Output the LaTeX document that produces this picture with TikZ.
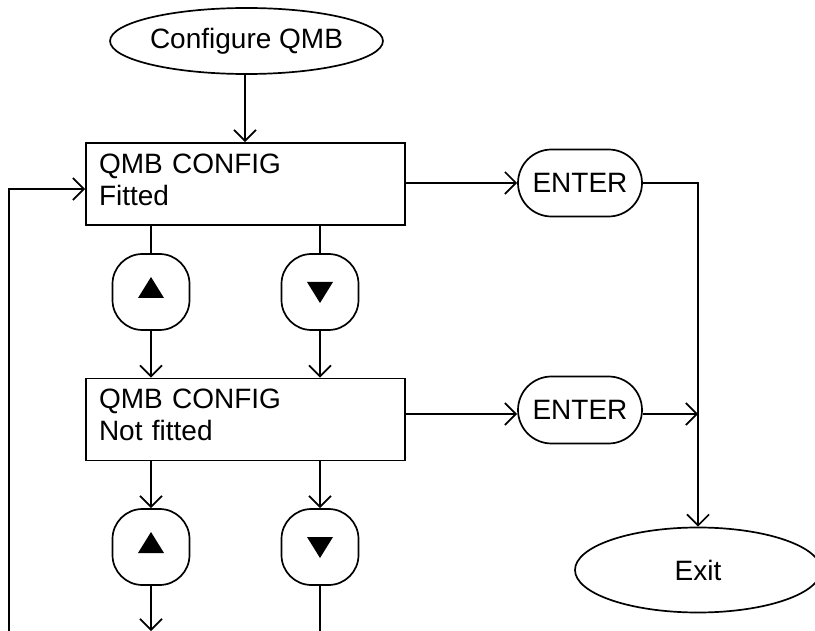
\documentclass[tikz,border=0pt]{standalone}
\usepackage{fontspec}
\setmainfont{Liberation Sans}
\usetikzlibrary{shapes.geometric,shapes.misc,arrows.meta}
\begin{document}
\begin{tikzpicture}[x=1pt,y=-1pt,
  line width=1.7pt,
  every node/.style={font=\fontsize{28}{32}\selectfont, line width=1.7pt, draw, inner sep=0pt},
  arr/.style={-{Straight Barb[length=11pt,width=22pt,line width=1.7pt]}},
  oval/.style={ellipse},
  cfgbox/.style={rectangle, minimum width=319pt, minimum height=82pt, text width=293pt, align=left},
  btn/.style={rectangle, rounded corners=30pt, minimum width=77pt, minimum height=76pt},
  tri/.style={fill=black, draw=none},
  enter/.style={rounded rectangle, minimum width=124pt, minimum height=67pt}
]
\useasboundingbox (0,0) rectangle (815,631);

\node[oval, minimum width=227pt, minimum height=66pt] (cfg) at (246.5,41) {Configure QMB};
\node[cfgbox] (b1) at (245.5,184) {QMB CONFIG\\Fitted\rule[-9pt]{0pt}{0pt}};
\node[cfgbox] (b2) at (245.5,419.5) {QMB CONFIG\\Not fitted\rule[-9pt]{0pt}{0pt}};
\node[btn] (u1) at (151,292) {};
\node[btn] (d1) at (320,292) {};
\node[btn] (u2) at (151,547) {};
\node[btn] (d2) at (320,547) {};
\node[enter] (e1) at (580,183) {ENTER};
\node[enter] (e2) at (580,410) {ENTER};
\node[oval, minimum width=246pt, minimum height=85pt] (ex) at (698,570) {Exit};

\foreach \n in {u1,u2}
  \fill[tri] ([shift={(-13,6)}]\n.center) -- ([shift={(13,6)}]\n.center) -- ([shift={(0,-15)}]\n.center) -- cycle;
\foreach \n in {d1,d2}
  \fill[tri] ([shift={(-13,-10)}]\n.center) -- ([shift={(13,-10)}]\n.center) -- ([shift={(0,11)}]\n.center) -- cycle;

\coordinate (loop) at (9,631);
\coordinate (u2end) at (151,631);
\coordinate (d2end) at (320,631);

\draw[arr] (cfg.south -| 245,0) -- (245,0 |- b1.north);
\draw[arr] (loop) |- ([yshift=-5pt]b1.west);
\draw (u1.north |- b1.south) -- (u1.north);
\draw (d1.north |- b1.south) -- (d1.north);
\draw[arr] (u1.south) -- (u1.south |- b2.north);
\draw[arr] (d1.south) -- (d1.south |- b2.north);
\draw[arr] (u2.north |- b2.south) -- (u2.north);
\draw[arr] (d2.north |- b2.south) -- (d2.north);
\draw[arr] (u2.south) -- (u2end);
\draw (d2.south) -- (d2end);
\draw[arr] (e1.west -| b1.east) -- (e1.west);
\draw[arr] (e1.east) -| (ex.north);
\draw[arr] ([yshift=-4pt]e2.west -| b2.east) -- ([yshift=-4pt]e2.west);
\draw[arr] ([yshift=-4pt]e2.east) -- ([yshift=-4pt]e2.east -| ex.north);
\end{tikzpicture}
\end{document}
